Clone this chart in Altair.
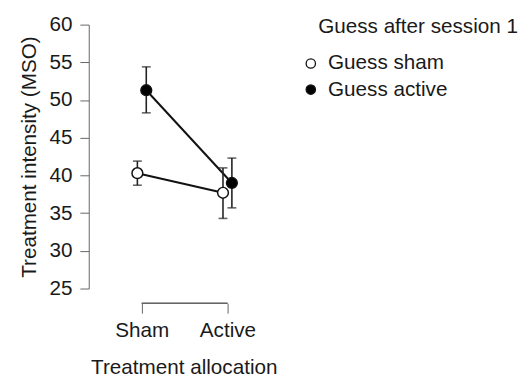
import altair as alt
import pandas as pd

allocation = ["Sham", "Sham", "Active", "Active"]
guess = ["Guess sham", "Guess active", "Guess sham", "Guess active"]
mean = [40.3, 51.3, 37.7, 39.0]
lower = [38.7, 48.3, 34.3, 35.7]
upper = [41.9, 54.4, 41.0, 42.3]

guess_order = ["Guess sham", "Guess active"]
y_ticks = [25, 30, 35, 40, 45, 50, 55, 60]

df = pd.DataFrame({"allocation": allocation, "guess": guess,
                   "mean": mean, "lower": lower, "upper": upper})

FONT = "Liberation Sans"
TXT = "#1a1a1a"
AX = "#666666"

base = alt.Chart(df).transform_calculate(
    xpos="(datum.allocation == 'Sham' ? 1 : 2) + (datum.guess == 'Guess sham' ? -0.052 : 0.052)"
)

xscale = alt.Scale(domain=[0.38, 2.60], nice=False, zero=False)
yscale = alt.Scale(domain=[25, 60], nice=False, zero=False)
XT = "Treatment allocation"
YT = "Treatment intensity (MSO)"

x_axis = alt.Axis(values=[1, 2], domain=False, grid=False,
                  labelExpr="datum.value == 1 ? 'Sham' : 'Active'",
                  tickSize=10, offset=15, labelPadding=7,
                  titlePadding=16, labelOverlap=False)
y_axis = alt.Axis(values=y_ticks, grid=False,
                  tickSize=9, labelPadding=8, titlePadding=10,
                  labelOverlap=False, labelBound=False, labelFlush=False)


def X():
    return alt.X("xpos:Q", scale=xscale, axis=x_axis, title=XT)


def Y(field):
    return alt.Y(field + ":Q", scale=yscale, axis=y_axis, title=YT)


lines = base.mark_line(color="#111111", strokeWidth=2).encode(
    x=X(), y=Y("mean"), detail="guess:N")

bars = base.mark_rule(color="#222222", strokeWidth=1.6).encode(
    x=X(), y=Y("lower"), y2="upper:Q")

cap_hi = base.mark_tick(color="#222222", thickness=1.6, size=9, orient="horizontal").encode(
    x=X(), y=Y("upper"))
cap_lo = base.mark_tick(color="#222222", thickness=1.6, size=9, orient="horizontal").encode(
    x=X(), y=Y("lower"))

points = base.mark_point(filled=True, size=120, stroke="#111111", strokeWidth=1.5,
                         opacity=1, shape="circle").encode(
    x=X(), y=Y("mean"),
    fill=alt.Fill("guess:N", scale=alt.Scale(domain=guess_order, range=["white", "black"]),
                  legend=alt.Legend(title="Guess after session 1", orient="none",
                                    legendX=233, legendY=-8, symbolType="circle",
                                    symbolSize=90, symbolStrokeColor="#111111",
                                    symbolStrokeWidth=1.3, symbolOffset=-18,
                                    labelOffset=7, rowPadding=4.5, titlePadding=16,
                                    padding=0)))

bracket = alt.Chart(df).mark_rule(color=AX, strokeWidth=1).encode(
    x=alt.datum(1, scale=xscale, axis=x_axis, title=XT), x2=alt.datum(2), y=alt.value(283))

chart = alt.layer(bracket, lines, bars, cap_hi, cap_lo, points).properties(
    width=193, height=268,
    padding={"left": 10, "top": 3, "right": 5, "bottom": 0},
).configure_view(stroke=None).configure_axis(
    labelFont=FONT, titleFont=FONT, labelFontSize=21, titleFontSize=21,
    labelColor=TXT, titleColor=TXT, titleFontWeight="normal",
    domainColor=AX, tickColor=AX, domainWidth=1, tickWidth=1,
).configure_legend(
    labelFont=FONT, titleFont=FONT, labelFontSize=21, titleFontSize=21,
    labelColor=TXT, titleColor=TXT, titleFontWeight="normal", titleLimit=400,
)

chart.save("out.html", embed_options={"renderer": "svg", "actions": False})
